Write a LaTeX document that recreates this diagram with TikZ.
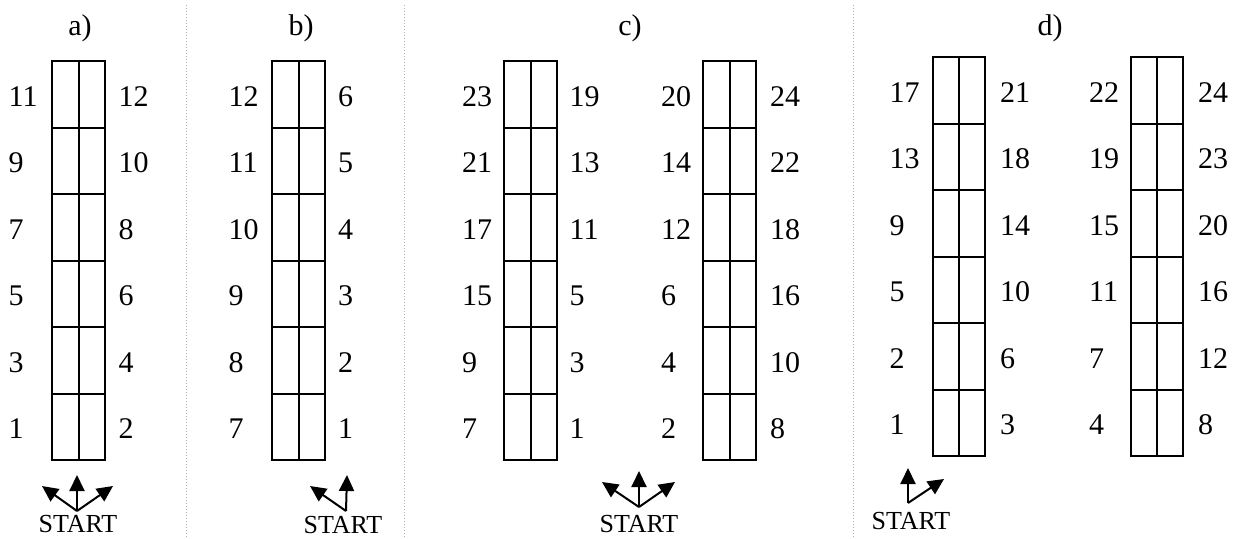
\documentclass[tikz,border=0pt]{standalone}
\usepackage{fontspec}
\setmainfont{Liberation Serif}
\usetikzlibrary{arrows.meta}
\newcommand\myrack[4]{% name, x left, x right, top
  \foreach \i in {0,...,5}
    \draw[rackline] (#2,#4+\i*66.5) rectangle (#3,#4+\i*66.5+66.5);
  \draw[rackline] ({(#2+#3)/2},#4) -- ({(#2+#3)/2},#4+399);
  \coordinate (#1) at ({(#2+#3)/2},#4);
}
\newcommand\mylabels[4]{% name, x, top, list
  \foreach \l [count=\i from 0] in {#4}
    \node[lbl] (#1\i) at (#2,#3+45.25+\i*66.5) {\l};
}
\begin{document}
\begin{tikzpicture}[x=1pt,y=-1pt,
  lbl/.style={anchor=base west,inner sep=0pt,font=\fontsize{30}{36}\selectfont},
  ttl/.style={anchor=base,inner sep=0pt,font=\fontsize{30}{36}\selectfont},
  st/.style={anchor=base,inner sep=0pt,font=\fontsize{26}{30}\selectfont},
  rackline/.style={line width=2pt},
  sep/.style={gray!60,dotted,line width=1pt},
  arr/.style={line width=2pt,-{Triangle[length=16pt,width=15pt]}}]
\useasboundingbox (0,0) rectangle (1233,538);

% separators
\coordinate (s1t) at (186,5); \coordinate (s1b) at (186,538);
\coordinate (s2t) at (404,5); \coordinate (s2b) at (404,538);
\coordinate (s3t) at (853,5); \coordinate (s3b) at (853,538);
\draw[sep] (s1t) -- (s1b);
\draw[sep] (s2t) -- (s2b);
\draw[sep] (s3t) -- (s3b);

% titles
\node[ttl] (ta) at (80,35) {a)};
\node[ttl] (tb) at (301,35) {b)};
\node[ttl] (tc) at (630,35) {c)};
\node[ttl] (td) at (1050,35) {d)};

% racks
\myrack{ra}{52}{105}{61}
\myrack{rb}{272}{325}{61}
\myrack{rc1}{504}{557}{61}
\myrack{rc2}{703}{756}{61}
\myrack{rd1}{933}{985}{57}
\myrack{rd2}{1131}{1183}{57}

% labels
\mylabels{aL}{8.5}{61}{11,9,7,5,3,1}
\mylabels{aR}{118.5}{61}{12,10,8,6,4,2}
\mylabels{bL}{228.5}{61}{12,11,10,9,8,7}
\mylabels{bR}{338}{61}{6,5,4,3,2,1}
\mylabels{cL}{462}{61}{23,21,17,15,9,7}
\mylabels{cR}{569.5}{61}{19,13,11,5,3,1}
\mylabels{cLL}{661}{61}{20,14,12,6,4,2}
\mylabels{cRR}{770}{61}{24,22,18,16,10,8}
\mylabels{dL}{889.5}{57}{17,13,9,5,2,1}
\mylabels{dR}{1000}{57}{21,18,14,10,6,3}
\mylabels{dLL}{1089}{57}{22,19,15,11,7,4}
\mylabels{dRR}{1198}{57}{24,23,20,16,12,8}

% START arrows
\coordinate (ao) at (77,511);
\coordinate (au) at (77,475);
\coordinate (al) at (42,486);
\coordinate (ar) at (113,486);
\draw[arr] (ao) -- (au);
\draw[arr] (ao) -- (al);
\draw[arr] (ao) -- (ar);
\node[st] (sa) at (78,532) {START};

\coordinate (bo) at (346,511);
\coordinate (bu) at (347,475);
\coordinate (bl) at (310,486);
\draw[arr] (bo) -- (bu);
\draw[arr] (bo) -- (bl);
\node[st] (sb) at (343,533) {START};

\coordinate (co) at (639,507);
\coordinate (cu) at (639,471);
\coordinate (cl) at (602,482);
\coordinate (cr) at (675,482);
\draw[arr] (co) -- (cu);
\draw[arr] (co) -- (cl);
\draw[arr] (co) -- (cr);
\node[st] (sc) at (639,532) {START};

\coordinate (do) at (908,503);
\coordinate (du) at (908,468);
\coordinate (dr) at (944,479);
\draw[arr] (do) -- (du);
\draw[arr] (do) -- (dr);
\node[st] (sd) at (911,529) {START};
\end{tikzpicture}
\end{document}
